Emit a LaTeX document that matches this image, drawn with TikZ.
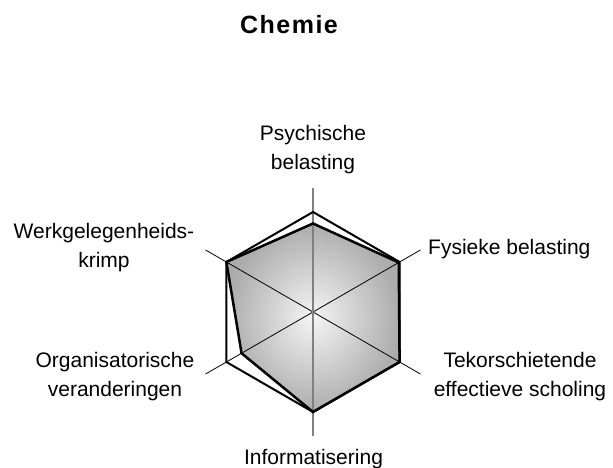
\documentclass[tikz,border=0pt]{standalone}
\usepackage{fontspec}
\setmainfont{Liberation Sans}
\usepackage{tikz}

\begin{document}
\begin{tikzpicture}[x=1pt,y=1pt,
  label node/.style={font=\fontsize{21}{29.5}\selectfont,align=center,inner sep=0pt,anchor=north},
  title node/.style={font=\fontsize{25}{30}\selectfont\bfseries\addfontfeature{LetterSpace=6},inner sep=0pt,anchor=north},
  axis line/.style={black,line width=0.8pt},
  value axis/.style={gray,line width=1.2pt},
  grid line/.style={black,line width=2pt,line join=miter},
  data line/.style={black,line width=2.5pt,line join=miter}]
  \useasboundingbox (0,0) rectangle (613,468);

  \node[title node] (t) at (289,453) {Chemie};

  \begin{scope}[shift={(313,156)}]
    \coordinate (c) at (0,0);
    % axis ends
    \coordinate (e1) at (90:124);
    \coordinate (e2) at (30:124);
    \coordinate (e3) at (-30:124);
    \coordinate (e4) at (-90:124);
    \coordinate (e5) at (210:124);
    \coordinate (e6) at (150:124);
    % outer hexagon
    \coordinate (h1) at (90:100);
    \coordinate (h2) at (30:100);
    \coordinate (h3) at (-30:100);
    \coordinate (h4) at (-90:100);
    \coordinate (h5) at (210:100);
    \coordinate (h6) at (150:100);
    % data
    \coordinate (d1) at (90:88.5);
    \coordinate (d2) at (30:99);
    \coordinate (d3) at (-30:100);
    \coordinate (d4) at (-90:100);
    \coordinate (d5) at (210:82.5);
    \coordinate (d6) at (150:100);

    \shade[inner color=gray!8,outer color=gray!65]
      (d1) -- (d2) -- (d3) -- (d4) -- (d5) -- (d6) -- cycle;
    \draw[axis line] (e2) -- (e5);
    \draw[axis line] (e3) -- (e6);
    \draw[value axis] (e1) -- (e4);
    \draw[grid line] (h1) -- (h2) -- (h3) -- (h4) -- (h5) -- (h6) -- cycle;
    \draw[data line] (d1) -- (d2) -- (d3) -- (d4) -- (d5) -- (d6) -- cycle;
  \end{scope}

  \node[label node] (1) at (313,343) {Psychische\\belasting};
  \node[label node,anchor=north west] (2) at (428,229) {Fysieke belasting};
  \node[label node] (3) at (520,116) {Tekorschietende\\effectieve scholing};
  \node[label node] (4) at (313.5,19) {Informatisering};
  \node[label node] (5) at (115,116) {Organisatorische\\veranderingen};
  \node[label node] (6) at (104,245) {Werkgelegenheids-\\krimp};
\end{tikzpicture}
\end{document}
